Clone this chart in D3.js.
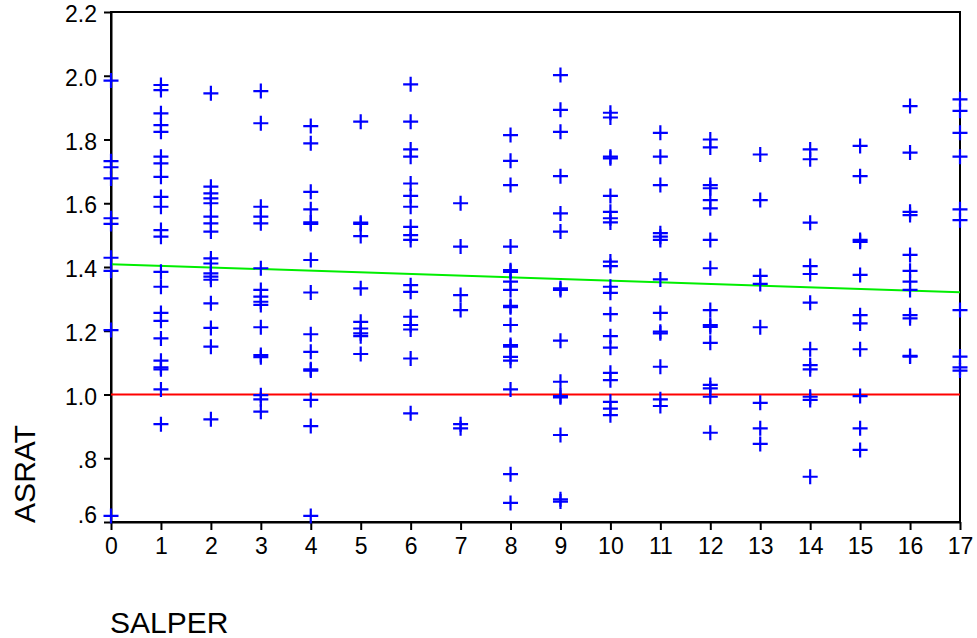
<!DOCTYPE html>
<html>
<head>
<meta charset="utf-8">
<script src="https://cdn.jsdelivr.net/npm/d3@7"></script>
<style>
  body { margin: 0; background: #fff; }
  text { font-family: "Liberation Sans", Arial, sans-serif; fill: #000; }
</style>
</head>
<body>
<div id="chart"></div>
<script>
// SALPER levels on the x axis
const salper = [0, 1, 2, 3, 4, 5, 6, 7, 8, 9, 10, 11, 12, 13, 14, 15, 16, 17];

// ASRAT values, one list per SALPER level
const asrat0 = [1.985, 1.732, 1.713, 1.678, 1.553, 1.535, 1.429, 1.388, 1.202, 0.619];
const asrat1 = [1.971, 1.955, 1.882, 1.845, 1.824, 1.746, 1.725, 1.683, 1.620, 1.589, 1.516, 1.495, 1.385, 1.338, 1.256, 1.231, 1.176, 1.106, 1.085, 1.079, 1.016, 0.907];
const asrat2 = [1.945, 1.652, 1.631, 1.615, 1.600, 1.558, 1.537, 1.511, 1.427, 1.411, 1.380, 1.370, 1.360, 1.286, 1.209, 1.150, 0.922];
const asrat3 = [1.952, 1.851, 1.589, 1.558, 1.537, 1.396, 1.328, 1.307, 1.291, 1.281, 1.211, 1.124, 1.117, 0.998, 0.985, 0.946];
const asrat4 = [1.842, 1.788, 1.636, 1.581, 1.540, 1.535, 1.422, 1.320, 1.189, 1.134, 1.079, 1.075, 0.983, 0.901, 0.619];
const asrat5 = [1.856, 1.539, 1.535, 1.497, 1.333, 1.228, 1.207, 1.192, 1.183, 1.127];
const asrat6 = [1.973, 1.856, 1.769, 1.746, 1.662, 1.623, 1.589, 1.526, 1.500, 1.485, 1.343, 1.322, 1.244, 1.218, 1.204, 1.113, 0.941];
const asrat7 = [1.600, 1.464, 1.312, 1.265, 0.907, 0.894];
const asrat8 = [1.814, 1.733, 1.657, 1.464, 1.390, 1.385, 1.354, 1.328, 1.278, 1.274, 1.218, 1.155, 1.150, 1.118, 1.106, 1.016, 0.750, 0.660];
const asrat9 = [2.002, 1.893, 1.824, 1.685, 1.568, 1.511, 1.333, 1.328, 1.169, 1.040, 0.995, 0.991, 0.873, 0.671, 0.664];
const asrat10 = [1.884, 1.869, 1.746, 1.741, 1.623, 1.573, 1.553, 1.540, 1.417, 1.403, 1.338, 1.319, 1.252, 1.183, 1.147, 1.068, 1.045, 0.977, 0.956, 0.935];
const asrat11 = [1.821, 1.746, 1.657, 1.506, 1.495, 1.485, 1.361, 1.256, 1.197, 1.192, 1.087, 0.985, 0.964];
const asrat12 = [1.800, 1.775, 1.657, 1.647, 1.610, 1.584, 1.485, 1.396, 1.265, 1.218, 1.212, 1.162, 1.030, 1.019, 0.993, 0.880];
const asrat13 = [1.753, 1.610, 1.372, 1.347, 1.211, 0.974, 0.894, 0.845];
const asrat14 = [1.769, 1.738, 1.539, 1.403, 1.378, 1.288, 1.142, 1.092, 1.079, 0.993, 0.983, 0.742];
const asrat15 = [1.780, 1.685, 1.485, 1.479, 1.375, 1.249, 1.223, 1.142, 0.995, 0.894, 0.826];
const asrat16 = [1.905, 1.759, 1.573, 1.563, 1.438, 1.388, 1.354, 1.328, 1.249, 1.239, 1.121, 1.119];
const asrat17 = [1.926, 1.890, 1.821, 1.746, 1.581, 1.547, 1.265, 1.119, 1.085, 1.075];

const asratGroups = [asrat0, asrat1, asrat2, asrat3, asrat4, asrat5, asrat6, asrat7, asrat8,
  asrat9, asrat10, asrat11, asrat12, asrat13, asrat14, asrat15, asrat16, asrat17];

// axis ticks
const yTicks = [2.2, 2.0, 1.8, 1.6, 1.4, 1.2, 1.0, 0.8, 0.6];
const yTickLabels = ["2.2", "2.0", "1.8", "1.6", "1.4", "1.2", "1.0", ".8", ".6"];

// reference line and fitted line
const refLevel = 1.0;
const fitStart = 1.409; // at SALPER = 0
const fitEnd = 1.321;   // at SALPER = 17

const width = 977, height = 638;
const svg = d3.select('#chart').append('svg')
  .attr('width', width)
  .attr('height', height);

const x = d3.scaleLinear().domain([0, 17]).range([111, 960]);
const y = d3.scaleLinear().domain([0.6, 2.2]).range([522, 12]);

// flatten points
const points = [];
asratGroups.forEach((vals, i) => vals.forEach(v => points.push({ s: salper[i], v: v })));

// frame
svg.append('rect')
  .attr('x', x(0)).attr('y', y(2.2))
  .attr('width', x(17) - x(0)).attr('height', y(0.6) - y(2.2))
  .attr('fill', 'none').attr('stroke', '#000').attr('stroke-width', 2);

// axes
const xAxis = svg.append('g')
  .attr('transform', `translate(0,${y(0.6)})`)
  .call(d3.axisBottom(x).tickValues(salper).tickFormat(d3.format('d')).tickSize(8).tickSizeOuter(0).tickPadding(8));
const yAxis = svg.append('g')
  .attr('transform', `translate(${x(0)},0)`)
  .call(d3.axisLeft(y).tickValues(yTicks).tickFormat((d, i) => yTickLabels[i]).tickSize(7).tickSizeOuter(0).tickPadding(7));

[xAxis, yAxis].forEach(g => {
  g.select('.domain').attr('stroke', '#000').attr('stroke-width', 2);
  g.selectAll('.tick line').attr('stroke', '#000').attr('stroke-width', 2);
  g.selectAll('.tick text').attr('font-size', 23).attr('fill', '#000')
    .style('font-family', '"Liberation Sans", Arial, sans-serif');
});
yAxis.selectAll('.tick text').attr('dy', '0.42em');
// bottom label sits above the axis line
yAxis.selectAll('.tick text').filter(d => d === 0.6).attr('dy', '0em');

// reference line at 1.0
svg.append('line')
  .attr('x1', x(0)).attr('x2', x(17))
  .attr('y1', y(refLevel)).attr('y2', y(refLevel))
  .attr('stroke', '#ff0000').attr('stroke-width', 2);

// fitted line
svg.append('line')
  .attr('x1', x(0)).attr('x2', x(17))
  .attr('y1', y(fitStart)).attr('y2', y(fitEnd))
  .attr('stroke', '#00ee00').attr('stroke-width', 2);

// markers
svg.append('g').selectAll('path')
  .data(points)
  .enter()
  .append('path')
  .attr('transform', d => `translate(${x(d.s)},${y(d.v)})`)
  .attr('d', 'M-7.5,0H7.5M0,-7.5V7.5')
  .attr('stroke', '#0000ff')
  .attr('stroke-width', 2.2)
  .attr('fill', 'none');

// axis titles
svg.append('text')
  .attr('transform', 'translate(35,474) rotate(-90)')
  .attr('text-anchor', 'middle')
  .attr('font-size', 30)
  .text('ASRAT');

svg.append('text')
  .attr('x', 110).attr('y', 633)
  .attr('font-size', 30)
  .text('SALPER');
</script>
</body>
</html>
